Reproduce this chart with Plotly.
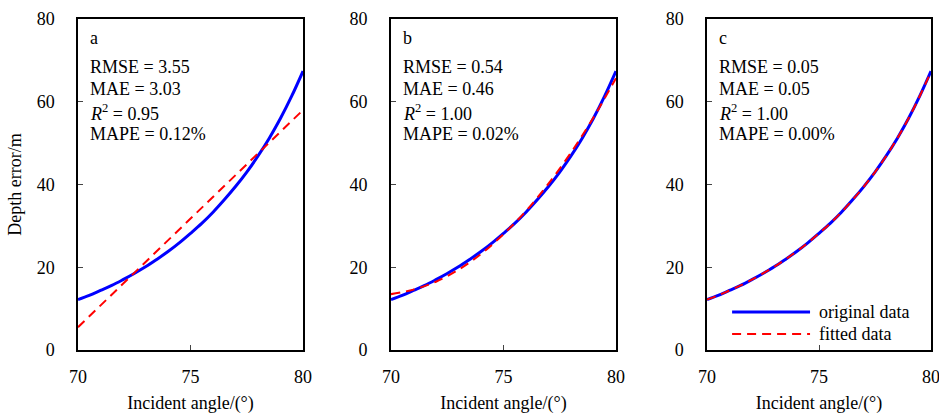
import plotly.graph_objects as go
from plotly.subplots import make_subplots

# ---- data ----
angle = [70.0, 70.5, 71.0, 71.5, 72.0, 72.5, 73.0, 73.5, 74.0, 74.5, 75.0,
         75.5, 76.0, 76.5, 77.0, 77.5, 78.0, 78.5, 79.0, 79.5, 80.0]
original = [12.2, 13.2, 14.4, 15.6, 17.0, 18.5, 20.1, 21.9, 23.8, 25.9, 28.2,
            30.6, 33.3, 36.3, 39.5, 43.0, 46.9, 51.2, 56.0, 61.4, 67.4]

fit_a_angle = [70.0, 80.0]
fit_a = [5.5, 58.0]

fit_b_angle = [70.0, 71.0, 72.0, 73.0, 74.0, 75.0, 76.0, 77.0, 78.0, 79.0, 80.0]
fit_b = [13.5, 14.6, 16.5, 19.4, 23.2, 28.0, 33.6, 40.2, 47.7, 56.2, 65.7]

fit_c = [12.2, 13.2, 14.4, 15.6, 17.0, 18.5, 20.1, 21.9, 23.8, 25.9, 28.2,
         30.6, 33.3, 36.3, 39.5, 43.0, 46.9, 51.2, 56.0, 61.4, 67.3]

panel_letters = ["a", "b", "c"]
rmse = ["3.55", "0.54", "0.05"]
mae = ["3.03", "0.46", "0.05"]
r2 = ["0.95", "1.00", "1.00"]
mape = ["0.12%", "0.02%", "0.00%"]

x_ticks = [70, 75, 80]
y_ticks = [0, 20, 40, 60, 80]

FONT = "Liberation Serif"
BLUE = "#0000FF"
RED = "#FF0000"

fig = make_subplots(rows=1, cols=3, horizontal_spacing=0.1)

fits = [(fit_a_angle, fit_a), (fit_b_angle, fit_b), (angle, fit_c)]
for i in range(3):
    fig.add_trace(go.Scatter(x=angle, y=original, mode="lines", name="original data",
                             line=dict(color=BLUE, width=3, shape="spline"),
                             showlegend=False), row=1, col=i + 1)
    fx, fy = fits[i]
    fig.add_trace(go.Scatter(x=fx, y=fy, mode="lines", name="fitted data",
                             line=dict(color=RED, width=2, dash="9px,6px", shape="spline"),
                             showlegend=False), row=1, col=i + 1)

domains = [[0.0, 0.2638], [0.3669, 0.6307], [0.7374, 1.0]]
for i in range(3):
    sfx = "" if i == 0 else str(i + 1)
    fig.layout["xaxis" + sfx].update(
        domain=domains[i], range=[70, 80], tickvals=x_ticks, ticks="inside", ticklen=5,
        showline=True, linecolor="black", linewidth=1.5, mirror=True, showgrid=False,
        zeroline=False, automargin=False, ticklabeloverflow="allow",
        tickfont=dict(size=18, color="black", family=FONT), ticklabelstandoff=10,
        title=dict(text="Incident angle/(°)", font=dict(size=18, color="black", family=FONT), standoff=13))
    fig.layout["yaxis" + sfx].update(
        range=[0, 80], tickvals=y_ticks, ticks="inside", ticklen=5,
        showline=True, linecolor="black", linewidth=1.5, mirror=True, showgrid=False,
        zeroline=False, automargin=False, ticklabeloverflow="allow",
        tickfont=dict(size=18, color="black", family=FONT), ticklabelstandoff=18)
    xr = "x" + sfx + " domain"
    yr = "y" + sfx + " domain"
    texts = [panel_letters[i], "RMSE = " + rmse[i], "MAE = " + mae[i],
             "<i>R</i><sup>2</sup> = " + r2[i], "MAPE = " + mape[i]]
    ys = [0.943, 0.855, 0.789, 0.719, 0.653]
    for t, yv in zip(texts, ys):
        fig.add_annotation(text=t, xref=xr, yref=yr, x=0.045, y=yv, xanchor="left",
                           yanchor="middle", showarrow=False,
                           font=dict(size=18, color="black", family=FONT))

fig.layout.yaxis.title = dict(text="Depth error/m", font=dict(size=18, color="black", family=FONT), standoff=10)

# legend drawn inside panel c
leg_items = [("original data", BLUE, "solid", 3, 0.115), ("fitted data", RED, "9px,6px", 2, 0.048)]
for name, col, dash, w, yv in leg_items:
    fig.add_shape(type="line", xref="x3 domain", yref="y3 domain", x0=0.112, x1=0.46,
                  y0=yv, y1=yv, line=dict(color=col, width=w, dash=dash))
    fig.add_annotation(text=name, xref="x3 domain", yref="y3 domain", x=0.49, y=yv,
                       xanchor="left", yanchor="middle", showarrow=False,
                       font=dict(size=18, color="black", family=FONT))

fig.update_layout(
    width=939, height=414,
    margin=dict(l=78, r=8, t=19, b=64),
    paper_bgcolor="white", plot_bgcolor="white",
    font=dict(family=FONT, size=18, color="black"),
    showlegend=False,
)

fig.write_html("out.html", config={"displayModeBar": False},
               post_script="document.body.style.margin='0px';document.body.style.padding='0px';")
